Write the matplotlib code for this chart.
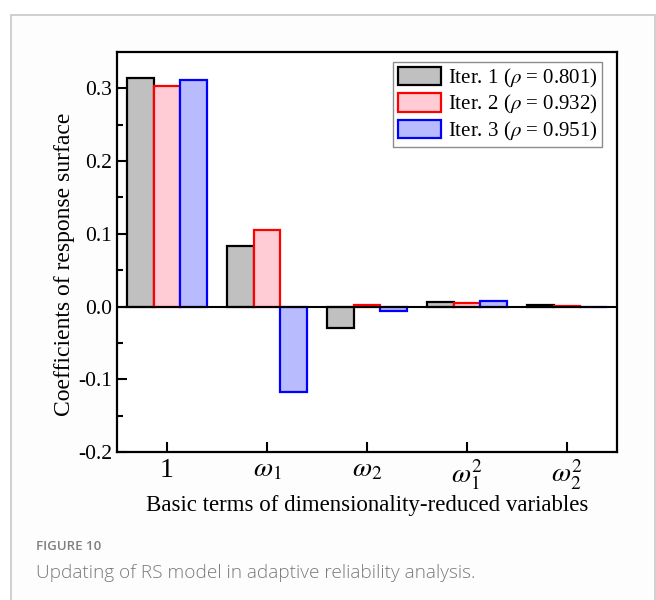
import numpy as np
import matplotlib
matplotlib.use('Agg')
import matplotlib.pyplot as plt
from matplotlib.patches import Rectangle

plt.rcParams['font.family'] = 'Liberation Serif'
plt.rcParams['mathtext.fontset'] = 'stix'

# coefficients of the response surface for each iteration
terms = ['1', r'$\omega_1$', r'$\omega_2$', r'$\omega_1^2$', r'$\omega_2^2$']
iter1 = [0.314, 0.083, -0.029, 0.006, 0.002]
iter2 = [0.303, 0.105, 0.002, 0.005, 0.001]
iter3 = [0.311, -0.118, -0.006, 0.007, -0.001]
labels = [r'Iter. 1 ($\rho$ = 0.801)', r'Iter. 2 ($\rho$ = 0.932)', r'Iter. 3 ($\rho$ = 0.951)']

fig = plt.figure(figsize=(6.56, 6.0), dpi=100)
# card frame behind everything
card = Rectangle((11/656, -0.01), 644/656, 1 - 15/600 + 0.01,
                 transform=fig.transFigure, facecolor='#fdfdfd',
                 edgecolor='#c8c8c8', lw=1.2, zorder=-5)
fig.add_artist(card)

ax = fig.add_axes([117/656, 1 - 452/600, 500/656, 400/600])
ax.set_zorder(1)
x = np.arange(len(terms))
w = 0.8 / 3
series = [iter1, iter2, iter3]
faces = ['#c0c0c0', '#ffccd5', '#b8bcff']
edges = ['#000000', '#ff0000', '#0000ff']
for i, (vals, fc, ec, lab) in enumerate(zip(series, faces, edges, labels)):
    ax.bar(x + (i - 1) * w, vals, w, color=fc, edgecolor=ec, linewidth=1.6, label=lab, zorder=2)

ax.axhline(0, color='black', lw=1.5, zorder=3)
ax.set_xlim(-0.5, 4.5)
ax.set_ylim(-0.2, 0.35)
ax.set_xticks(x)
ax.set_xticklabels(terms)
ax.set_yticks([-0.2, -0.1, 0.0, 0.1, 0.2, 0.3])
ax.set_yticklabels(['-0.2', '-0.1', '0.0', '0.1', '0.2', '0.3'])
ax.set_yticks(np.arange(-0.15, 0.35, 0.1), minor=True)
ax.tick_params(axis='both', direction='in', length=7, width=1.5, labelsize=15.5, top=False, right=False)
ax.tick_params(axis='y', which='minor', direction='in', length=4, width=1.5)
ax.tick_params(axis='x', labelsize=20, pad=4)
for s in ax.spines.values():
    s.set_linewidth(1.6)

ax.set_xlabel('Basic terms of dimensionality-reduced variables', fontsize=16.5, labelpad=2)
ax.set_ylabel('Coefficients of response surface', fontsize=17)
ax.yaxis.set_label_coords(-0.084, 0.47)

leg = ax.legend(loc='upper right', bbox_to_anchor=(1 - 15/500, 1 - 10/400),
                borderaxespad=0, fontsize=15, frameon=True, fancybox=False,
                edgecolor='#707070', handlelength=2.1, handleheight=1.0,
                handletextpad=0.3, borderpad=0.22, labelspacing=0.17)
leg.get_frame().set_linewidth(1.0)

fig.text(36/656, 1 - 546/600, 'FIGURE 10', fontsize=9.5, color='#808080',
         family='Open Sans', weight='semibold', va='center')
fig.text(36/656, 1 - 573/600, 'Updating of RS model in adaptive reliability analysis.',
         fontsize=13.7, color='#7a7a7a', family='Open Sans', weight='light', va='center')

fig.savefig('out.png', dpi=100)
